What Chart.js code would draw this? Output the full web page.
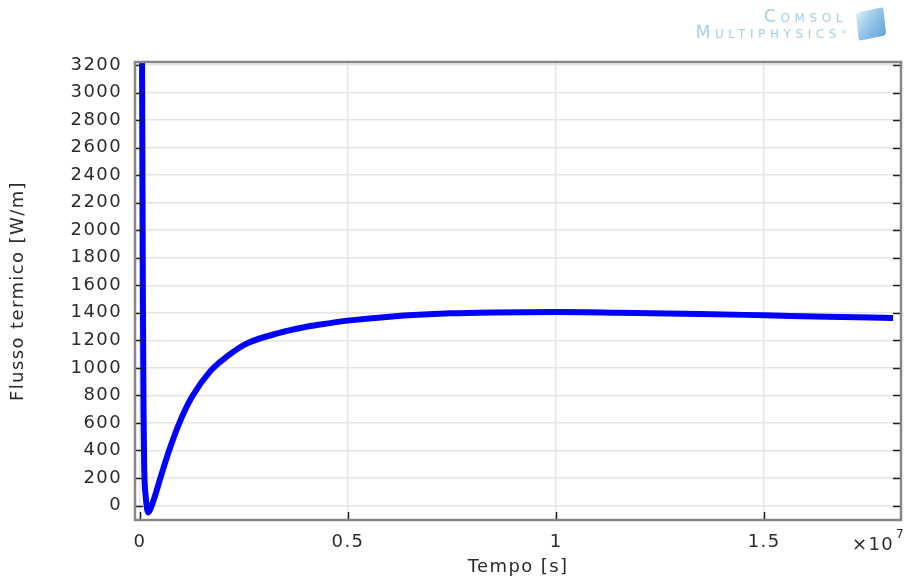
<!DOCTYPE html>
<html>
<head>
<meta charset="utf-8">
<script src="https://cdn.jsdelivr.net/npm/chart.js@4.4.0/dist/chart.umd.min.js"></script>
<style>
  html, body { margin: 0; padding: 0; background: #fff; }
  #wrap { position: relative; width: 904px; height: 581px; }
  #logo {
    position: absolute; right: 57px; top: 9px; text-align: right;
    color: #a6cde9; font-family: 'DejaVu Sans'; font-variant: small-caps;
    font-size: 17px; line-height: 15px; letter-spacing: 4.6px;
  }
  #logo sup { font-size: 6px; vertical-align: 4px; letter-spacing: 0; }
  #cube {
    position: absolute; left: 857px; top: 10px; width: 28px; height: 28px;
    transform: rotate(-12deg) skewX(-6deg);
    background: linear-gradient(135deg, #d6ebf8 0%, #7db8e2 45%, #3b8fcf 100%);
    border-radius: 3px; opacity: 0.8;
  }
</style>
</head>
<body>
<div id="wrap">
  <canvas id="chart" width="904" height="581"></canvas>
  <div id="logo">Comsol<br>Multiphysics<sup>®</sup></div>
  <div id="cube"></div>
</div>
<script>
// ---- data (time in s, heat flux in W/m) ----
const timeS = [
  0.05e6, 0.07e6, 0.085e6, 0.1e6, 0.14e6, 0.2e6, 0.27e6, 0.35e6, 0.5e6,
  0.7e6, 0.96e6, 1.25e6, 1.7e6, 2.1e6, 2.56e6, 3.37e6, 3.85e6, 4.33e6, 5.05e6,
  6.0e6, 7.45e6, 8.5e6, 10e6, 11.5e6, 13.46e6, 15e6, 16.5e6, 18.1e6
];
const fluxWm = [
  3220, 1500, 700, 300, 60, -50, -10, 60, 210,
  400, 610, 790, 980, 1085, 1176, 1256, 1290, 1315, 1345,
  1372, 1396, 1403, 1406, 1401, 1392, 1382, 1372, 1362
];

const xTicks = [0, 0.5e7, 1e7, 1.5e7];
const xTickLabels = ['0', '0.5', '1', '1.5'];
const yTicks = [0, 200, 400, 600, 800, 1000, 1200, 1400, 1600, 1800, 2000, 2200, 2400, 2600, 2800, 3000, 3200];
const xMin = -0.12e6, xMax = 18.29e6;
const yMin = -105, yMax = 3222;

const FONT = "'DejaVu Sans', sans-serif";
const TEXT = '#2b2b2b';

// wider text spacing like the original export
const spacingPlugin = {
  id: 'spacing',
  beforeInit(chart) { chart.ctx.letterSpacing = '1.4px'; },
  beforeDraw(chart) { chart.ctx.letterSpacing = '1.4px'; }
};

// frame, inner ticks, x10^7 exponent
const framePlugin = {
  id: 'frame',
  afterDatasetsDraw(chart) {
    const { ctx, chartArea: a, scales: { x, y } } = chart;
    ctx.save();
    ctx.strokeStyle = '#1e1e1e';
    ctx.lineWidth = 1.5;
    ctx.beginPath();
    yTicks.forEach(v => {
      const py = Math.round(y.getPixelForValue(v)) + 0.5;
      ctx.moveTo(a.left, py); ctx.lineTo(a.left + 8, py);
      ctx.moveTo(a.right, py); ctx.lineTo(a.right - 8, py);
    });
    xTicks.forEach(v => {
      const px = Math.round(x.getPixelForValue(v)) + 0.5;
      ctx.moveTo(px, a.bottom); ctx.lineTo(px, a.bottom - 8);
    });
    ctx.stroke();

    ctx.strokeStyle = '#878787';
    ctx.lineWidth = 2.5;
    ctx.strokeRect(a.left, a.top, a.right - a.left, a.bottom - a.top);

    // exponent label
    ctx.fillStyle = TEXT;
    ctx.textBaseline = 'alphabetic';
    ctx.textAlign = 'left';
    ctx.font = '18px ' + FONT;
    ctx.fillText('×10', 852, 550);
    ctx.font = '12px ' + FONT;
    ctx.fillText('7', 896, 538);
    ctx.restore();
  }
};

const ctx = document.getElementById('chart').getContext('2d');
new Chart(ctx, {
  type: 'scatter',
  data: {
    datasets: [{
      data: timeS.map((t, i) => ({ x: t, y: fluxWm[i] })),
      showLine: true,
      borderColor: '#0000ff',
      borderWidth: 6,
      pointRadius: 0,
      cubicInterpolationMode: 'monotone',
      fill: false
    }]
  },
  options: {
    responsive: false,
    animation: false,
    events: [],
    layout: { padding: { top: 62, right: 3, left: 0, bottom: 0 } },
    plugins: { legend: { display: false }, tooltip: { enabled: false } },
    scales: {
      x: {
        type: 'linear',
        min: xMin, max: xMax,
        afterBuildTicks: s => { s.ticks = xTicks.map(v => ({ value: v })); },
        afterFit: s => { s.height = 61; },
        ticks: {
          callback: v => xTickLabels[xTicks.indexOf(v)] ?? '',
          color: TEXT, padding: 12, maxRotation: 0,
          font: { family: FONT, size: 18, lineHeight: 1.2 }
        },
        grid: { color: '#e4e4e4', lineWidth: 1.5, drawTicks: false },
        border: { display: false },
        title: {
          display: true, text: 'Tempo [s]', color: TEXT,
          font: { family: FONT, size: 18, lineHeight: 1.2 },
          padding: { top: 0, bottom: 3 }
        }
      },
      y: {
        type: 'linear',
        min: yMin, max: yMax,
        afterBuildTicks: s => { s.ticks = yTicks.map(v => ({ value: v })); },
        afterFit: s => { s.width = 135; },
        ticks: {
          callback: v => String(v),
          color: TEXT, padding: 13,
          font: { family: FONT, size: 18, lineHeight: 1.2 }
        },
        grid: { color: '#e4e4e4', lineWidth: 1.5, drawTicks: false },
        border: { display: false },
        title: {
          display: true, text: 'Flusso termico [W/m]', color: TEXT,
          font: { family: FONT, size: 18, lineHeight: 1.2 },
          padding: { top: 8, bottom: 0 }
        }
      }
    }
  },
  plugins: [spacingPlugin, framePlugin]
});
</script>
</body>
</html>
